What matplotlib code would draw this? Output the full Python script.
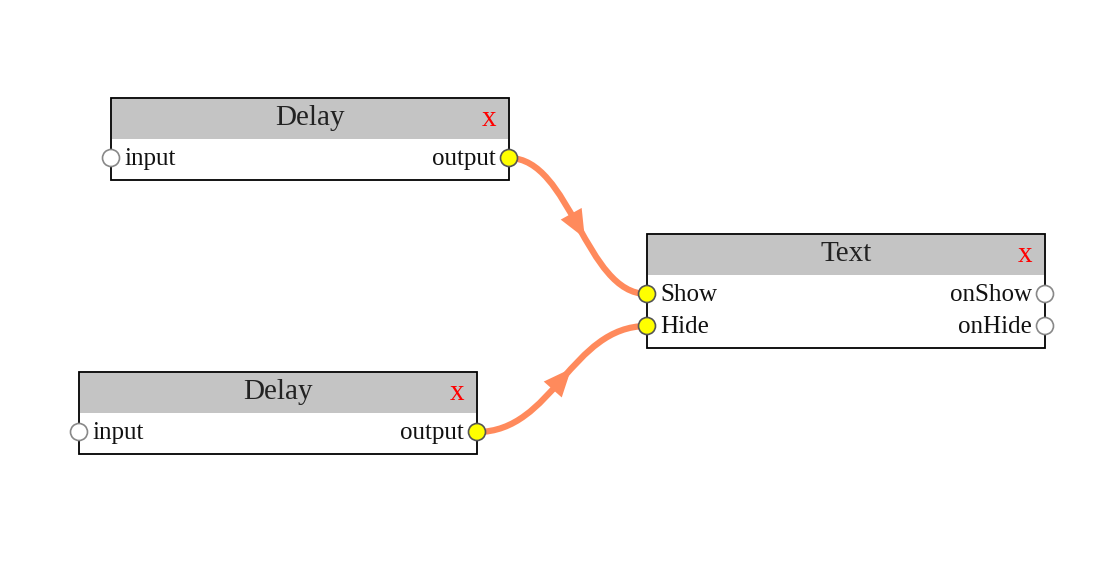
import numpy as np
import matplotlib.pyplot as plt
from matplotlib.patches import Rectangle, Circle, PathPatch, Polygon
from matplotlib.path import Path

plt.rcParams['font.family'] = ['Liberation Serif', 'DejaVu Serif']

# nodes: title, left x, top y, inputs, outputs (pixel units)
node_titles = ["Delay", "Delay", "Text"]
node_x = [111, 79, 647]
node_y = [98, 372, 234]
node_inputs = [["input"], ["input"], ["Show", "Hide"]]
node_outputs = [["output"], ["output"], ["onShow", "onHide"]]
# edges: (from node, output idx) -> (to node, input idx)
edges = [(0, 0, 2, 0), (1, 0, 2, 1)]

W, HEAD, ROW0, ROWH = 398, 40, 20, 32
edge_col = "#ff8a5c"

fig = plt.figure(figsize=(11.12, 5.74), dpi=100)
ax = fig.add_axes([0, 0, 1, 1])
ax.set_xlim(0, 1112)
ax.set_ylim(574, 0)
ax.axis('off')

def port_y(n, i):
    return node_y[n] + HEAD + ROW0 + i * ROWH

connected_in = {(e[2], e[3]) for e in edges}
connected_out = {(e[0], e[1]) for e in edges}

for n, t in enumerate(node_titles):
    x, y = node_x[n], node_y[n]
    rows = max(len(node_inputs[n]), len(node_outputs[n]))
    h = HEAD + ROW0 + (rows - 1) * ROWH + 22
    ax.add_patch(Rectangle((x, y), W, h, facecolor='white', edgecolor='black', lw=1.3, zorder=1))
    ax.add_patch(Rectangle((x + 0.7, y + 0.7), W - 1.4, HEAD, facecolor='#c4c4c4', edgecolor='none', zorder=2))
    ax.text(x + W / 2, y + 20, t, ha='center', va='center', fontsize=21, color='#222222', zorder=3)
    ax.text(x + W - 20, y + 21, "x", ha='center', va='center', fontsize=21, color='red', zorder=3)
    for i, lab in enumerate(node_inputs[n]):
        py = port_y(n, i)
        on = (n, i) in connected_in
        ax.add_patch(Circle((x, py), 8.5, facecolor='yellow' if on else 'white',
                            edgecolor='#555555' if on else '#888888', lw=1.2, zorder=5))
        ax.text(x + 13, py + 1, lab, ha='left', va='center', fontsize=18, color='#111111', zorder=3)
    for i, lab in enumerate(node_outputs[n]):
        py = port_y(n, i)
        on = (n, i) in connected_out
        ax.add_patch(Circle((x + W, py), 8.5, facecolor='yellow' if on else 'white',
                            edgecolor='#555555' if on else '#888888', lw=1.2, zorder=5))
        ax.text(x + W - 13, py + 1, lab, ha='right', va='center', fontsize=18, color='#111111', zorder=3)

for a, ai, b, bi in edges:
    p0 = np.array([node_x[a] + W, port_y(a, ai)])
    p3 = np.array([node_x[b], port_y(b, bi)])
    dx = (p3[0] - p0[0]) * 0.45
    p1 = p0 + [dx, 0]
    p2 = p3 - [dx, 0]
    path = Path([p0, p1, p2, p3], [Path.MOVETO, Path.CURVE4, Path.CURVE4, Path.CURVE4])
    ax.add_patch(PathPatch(path, facecolor='none', edgecolor=edge_col, lw=4.5, zorder=4, capstyle='round'))
    t = 0.5
    m = (1-t)**3*p0 + 3*(1-t)**2*t*p1 + 3*(1-t)*t**2*p2 + t**3*p3
    d = 3*(1-t)**2*(p1-p0) + 6*(1-t)*t*(p2-p1) + 3*t**2*(p3-p2)
    d = d / np.linalg.norm(d)
    nrm = np.array([-d[1], d[0]])
    tip = m + d * 14
    base = m - d * 14
    ax.add_patch(Polygon([tip, base + nrm * 12, base - nrm * 12], closed=True,
                         facecolor=edge_col, edgecolor='none', zorder=4))

fig.savefig("out.png", dpi=100)
